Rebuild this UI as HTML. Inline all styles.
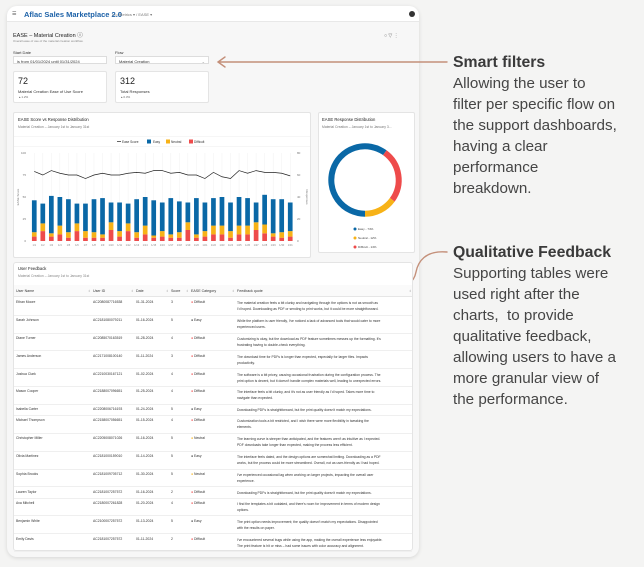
<!DOCTYPE html>
<html><head><meta charset="utf-8">
<style>
*{margin:0;padding:0;box-sizing:border-box}
body{width:644px;height:567px;background:#f4f4f3;position:relative;overflow:hidden;font-family:"Liberation Sans",sans-serif;color:#222}
.a{position:absolute;white-space:nowrap}
.card{position:absolute;background:#fff;border:1px solid #e4e4e4;border-radius:2px}
.t4{font-size:4px;color:#333}
.note{position:absolute;left:453px;font-size:15.2px;line-height:21px;color:#454545;white-space:nowrap}
.note b{font-size:15.8px;color:#3a3a3a}
</style></head><body>
<div class="a" style="left:7px;top:6px;width:412px;height:551px;background:#f7f7f7;border-radius:10px;box-shadow:0 1px 4px rgba(0,0,0,.12)"></div>
<div class="a" style="left:7px;top:6px;width:412px;height:16px;background:#fff;border-radius:10px 10px 0 0;border-bottom:1px solid #e8e8e8"></div>
<div class="a" style="left:12px;top:11px;font-size:5px;color:#555">☰</div>
<div class="a" style="left:24px;top:10px;font-size:7.5px;font-weight:bold;color:#1d62a8">Aflac Sales Marketplace 2.0</div>
<div class="a" style="left:112px;top:12px;font-size:4px;color:#777">|  ▭ Metrics ▾  /  EASE ▾</div>
<div class="a" style="left:409px;top:11px;width:6px;height:6px;border-radius:50%;background:#333"></div>

<div class="a" style="left:13px;top:31px;font-size:5.5px;color:#222">EASE – Material Creation ⓘ</div>
<div class="a t4" style="left:13px;top:39px;font-size:3px;color:#888">Overall ease of use of the material creation workflow.</div>
<div class="a" style="left:384px;top:33px;font-size:5px;color:#666">○ ▽ ⋮</div>

<div class="a t4" style="left:13px;top:50px">Start Date</div>
<div class="a t4" style="left:13px;top:56px;width:94px;height:8px;background:#fff;border:1px solid #ddd;padding:1.5px 3px">is from 01/01/2024 until 01/31/2024</div>
<div class="a t4" style="left:115px;top:50px">Flow</div>
<div class="a t4" style="left:115px;top:56px;width:94px;height:8px;background:#fff;border:1px solid #ddd;padding:1.5px 3px">Material Creation<span style="position:absolute;right:3px;color:#999">⌄</span></div>

<div class="card" style="left:13px;top:71px;width:94px;height:32px">
<div class="a" style="left:4px;top:4px;font-size:9px">72</div>
<div class="a t4" style="left:4px;top:17px">Material Creation Ease of Use Score</div>
<div class="a t4" style="left:5px;top:23px;font-size:3px;color:#666">▴ 1.2%</div></div>
<div class="card" style="left:115px;top:71px;width:94px;height:32px">
<div class="a" style="left:4px;top:4px;font-size:9px">312</div>
<div class="a t4" style="left:4px;top:17px">Total Responses</div>
<div class="a t4" style="left:5px;top:23px;font-size:3px;color:#666">▴ 0.3%</div></div>

<div class="card" style="left:13px;top:112px;width:298px;height:146px"></div>
<div class="a" style="left:18px;top:117px;font-size:4.2px">EASE Score vs Response Distribution</div>
<div class="a t4" style="left:18px;top:125px;font-size:3.4px;color:#777">Material Creation – January 1st to January 31st</div>

<div class="card" style="left:318px;top:112px;width:97px;height:141px"></div>
<div class="a" style="left:322px;top:117px;font-size:4.2px">EASE Response Distribution</div>
<div class="a t4" style="left:322px;top:125px;font-size:3.4px;color:#777">Material Creation – January 1st to January 3...</div>

<svg class="a" style="left:0;top:0" width="644" height="567" id="svg" xmlns="http://www.w3.org/2000/svg"></svg>

<div class="card" style="left:13px;top:262px;width:400px;height:289px;border-radius:3px"></div>
<div class="a" style="left:18px;top:266px;font-size:4.2px">User Feedback</div>
<div class="a t4" style="left:18px;top:274px;font-size:3.4px;color:#888">Material Creation – January 1st to January 31st</div>
<div id="table"></div>

<div class="note" style="top:52px"><b>Smart filters</b><br>Allowing the user to<br>filter per specific flow on<br>the support dashboards,<br>having a clear<br>performance<br>breakdown.</div>
<div class="note" style="top:242px"><b>Qualitative Feedback</b><br>Supporting tables were<br>used right after the<br>charts,&nbsp; to provide<br>qualitative feedback,<br>allowing users to have a<br>more granular view of<br>the performance.</div>

<script>
const days=[];for(let i=1;i<=31;i++)days.push('1/'+i);
const easyCounts=[29,18,34,26,30,18,25,30,33,18,26,18,30,26,32,26,33,28,18,33,26,25,26,26,26,25,18,27,31,30,26];
const neutralCounts=[4,7,3,8,5,7,6,5,3,7,5,7,5,8,2,5,3,5,7,3,5,8,8,6,8,8,7,8,3,5,5];
const difficultCounts=[4,9,4,6,3,9,3,3,3,10,4,9,3,6,3,4,3,3,10,3,4,6,6,3,6,6,10,7,4,3,4];
const easeScores=[79,75,80,77,75,75,71,75,77,75,75,77,78,77,80,80,77,78,75,75,71,78,73,71,80,77,80,78,78,77,74];
const leftTicks=[0,25,50,75,100];
const rightTicks=[0,20,40,60,80];
const sliceLabels=['Easy','Difficult','Neutral'];
const sliceValues=[60,25,15];
const legendLabels=['Easy - 74%','Neutral - 12%','Difficult - 14%'];
const colors={Easy:'#0a68a6',Neutral:'#f7b217',Difficult:'#ee4b4b'};

const NS='http://www.w3.org/2000/svg';const svg=document.getElementById('svg');
function mk(t,a,p){const e=document.createElementNS(NS,t);for(const k in a)e.setAttribute(k,a[k]);(p||svg).appendChild(e);return e;}
const X0=30,X1=294.5,Y0=241,Y1=153;
const band=(X1-X0)/days.length;
const xC=i=>X0+band*(i+0.5);
const yL=v=>Y0-(v/100)*(Y0-Y1);
const yR=v=>Y0-(v/80)*(Y0-Y1);
let l=mk('line',{x1:14,x2:310,y1:136.5,y2:136.5,stroke:'#eee','stroke-width':0.6});
l=mk('line',{x1:14,x2:310,y1:146.5,y2:146.5,stroke:'#eee','stroke-width':0.6});
days.forEach((d,i)=>{const g=mk('line',{x1:xC(i),x2:xC(i),y1:Y1,y2:Y0,stroke:'#f0f0f0','stroke-width':0.5});});
leftTicks.forEach(v=>{const t=mk('text',{x:26,y:yL(v)+1,'font-size':3,'text-anchor':'end',fill:'#777'});t.textContent=v;});
rightTicks.forEach(v=>{const t=mk('text',{x:297,y:yR(v)+1,'font-size':3,fill:'#777'});t.textContent=v;});
let at=mk('text',{x:0,y:0,'font-size':3,fill:'#777','text-anchor':'middle',transform:'translate(19,197) rotate(-90)'});at.textContent='EASE Score';
at=mk('text',{x:0,y:0,'font-size':3,fill:'#777','text-anchor':'middle',transform:'translate(306,197) rotate(90)'});at.textContent='Responses';
const bw=band*0.55;
days.forEach((d,i)=>{
 const x=xC(i)-bw/2;const dd=difficultCounts[i],nn=neutralCounts[i],ee=easyCounts[i];
 let r=mk('rect',{x:x,y:yR(dd),width:bw,height:Y0-yR(dd),fill:colors.Difficult});
 r=mk('rect',{x:x,y:yR(dd+nn),width:bw,height:yR(dd)-yR(dd+nn),fill:colors.Neutral});
 r=mk('rect',{x:x,y:yR(dd+nn+ee),width:bw,height:yR(dd+nn)-yR(dd+nn+ee),fill:colors.Easy});
 const t=mk('text',{x:xC(i),y:246,'font-size':2.6,'text-anchor':'middle',fill:'#888'});t.textContent=d;
});
const pl=mk('polyline',{points:easeScores.map((v,i)=>xC(i)+','+yL(v)).join(' '),fill:'none',stroke:'#222','stroke-width':0.7});

let lg=mk('line',{x1:117,x2:121,y1:141.5,y2:141.5,stroke:'#222','stroke-width':0.7});
[['Ease Score',122,null],['Easy',153,147],['Neutral',171,166],['Difficult',194,189]].forEach(([n,tx,bx])=>{
 if(bx!==null){const r=mk('rect',{x:bx,y:139.5,width:4,height:4,fill:colors[n]});}
 const t=mk('text',{x:tx,y:143,'font-size':3.2,fill:'#333'});t.textContent=n;
});
const cx=365,cy=180,R=33.7;const tot=sliceValues.reduce((a,b)=>a+b,0);let ang=180;
sliceValues.forEach((v,i)=>{const a0=ang*Math.PI/180,a1=(ang+v/tot*360)*Math.PI/180;ang+=v/tot*360;
 const p=(a)=>[cx+R*Math.sin(a),cy-R*Math.cos(a)];const [x0,y0]=p(a0),[x1,y1]=p(a1);
 const s=mk('path',{d:`M${x0} ${y0} A${R} ${R} 0 ${v/tot>0.5?1:0} 1 ${x1} ${y1}`,fill:'none',stroke:colors[sliceLabels[i]],'stroke-width':6});
 });
legendLabels.forEach((t,i)=>{const n=t.split(' ')[0];
 const c=mk('circle',{cx:355,cy:229+i*9,r:1.5,fill:colors[n]});
 const tx=mk('text',{x:358,y:230.2+i*9,'font-size':3,fill:'#444'});tx.textContent=t;});
let ar=mk('path',{d:'M447 62 L218 62 M225 57 L218 62 L225 67',fill:'none',stroke:'#c4907a','stroke-width':1.4,'stroke-linecap':'round'});
ar=mk('path',{d:'M447 252 C425 250 418 262 416 272 C414 283 405 288 392 288 M397 284 L392 288 L398 291',fill:'none',stroke:'#c4907a','stroke-width':1.4,'stroke-linecap':'round'});

const rows=[
['Ethan Moore','AC2080087716538','01-31-2024','3','Difficult','The  material creation feels a bit clunky and navigating through the options is not as smooth as','I\'d hoped. Downloading as PDF or sending to print works, but it could be more straightforward.'],
['Sarah Johnson','AC2181080079211','01-16-2024','5','Easy','While the platform is user friendly, I\'ve noticed a lack of advanced tools that would cater to more','experienced users.'],
['Diane Turner','AC2085070163519','01-28-2024','4','Difficult','Customizing is okay, but the download as PDF feature sometimes messes up the formatting. It\'s','frustrating having to double-check everything.'],
['James Anderson','AC2171008100140','01-11-2024','3','Difficult','The download time for PDFs is longer than expected, especially for larger files. Impacts','productivity.'],
['Joshua Clark','AC2210030167121','01-02-2024','4','Difficult','The software is a bit pricey, causing occasional frustration during the configuration process. The','print option is decent, but it doesn\'t handle complex materials well, leading to unexpected errors.'],
['Mason Cooper','AC2188007096651','01-25-2024','4','Difficult','The interface feels a bit clunky, and it\'s not as user friendly as I\'d hoped. Takes more time to','navigate than expected.'],
['Isabella Carter','AC2208006716193','01-24-2024','5','Easy','Downloading PDFs is straightforward, but the print quality doesn\'t match my expectations.',''],
['Michael Thompson','AC2158007056651','01-15-2024','4','Difficult','Customization tools a bit restricted, and I wish there were more flexibility in tweaking the','elements.'],
['Christopher Miller','AC2205008071026','01-16-2024','5','Neutral','The learning curve is steeper than anticipated, and the features aren\'t as intuitive as I expected.','PDF downloads take longer than expected, making the process less efficient.'],
['Olivia Martinez','AC2181000159010','01-14-2024','5','Easy','The interface feels dated, and the design options are somewhat limiting. Downloading as a PDF','works, but the process could be more streamlined. Overall, not as user-friendly as I had hoped.'],
['Sophia Brooks','AC2181009705712','01-30-2024','5','Neutral','I\'ve experienced occasional lag when working on larger projects, impacting the overall user','experience.'],
['Lauren Taylor','AC2181007257572','01-16-2024','2','Difficult','Downloading PDFs is straightforward, but the print quality doesn\'t match my expectations.',''],
['Ava Mitchell','AC2180007261828','01-20-2024','4','Difficult','I find the templates a bit outdated, and there\'s room for improvement in terms of modern design','options.'],
['Benjamin White','AC2100007257572','01-13-2024','5','Easy','The print option needs improvement; the quality doesn\'t match my expectations. Disappointed','with the results on paper.'],
['Emily Davis','AC2181007257572','01-11-2024','2','Difficult','I\'ve encountered several bugs while using the app, making the overall experience less enjoyable.','The print feature is hit or miss – had some issues with color accuracy and alignment.']];
const cols=[16,93,136,171,191,237];
const heads=['User Name','User ID','Date','Score','EASE Category','Feedback quote'];
const tb=document.getElementById('table');
function div(html,css,name,inter){const d=document.createElement('div');d.className='a t4';d.style.cssText=css;d.innerHTML=html;
 
 
 tb.appendChild(d);return d;}
div('','left:14px;top:285px;width:398px;height:12px;background:#fafafa;border-bottom:1px solid #e6e6e6','table-header-row','false');
heads.forEach((h,i)=>{div(h,'left:'+cols[i]+'px;top:288.5px;font-size:3.6px;color:#333','column-header','true');
 const e=i<5?cols[i+1]-5:409;div('⇕','left:'+e+'px;top:289px;font-size:3px;color:#aaa','sort-icon','true');});
let y=297;const dotC={Easy:'#333',Neutral:'#f7b217',Difficult:'#ee4b4b'};
rows.forEach(r=>{const h=r[6]?17.8:11.3;
 div('','left:14px;top:'+(y+h)+'px;width:398px;height:0;border-top:1px solid #efefef','row-divider','false');
 const ty=y+3.3;
 [r[0],r[1],r[2],r[3]].forEach((v,i)=>div(v,'left:'+cols[i]+'px;top:'+ty+'px;font-size:3.4px','table-cell','false'));
 div('<span style="color:'+dotC[r[4]]+'">●</span> '+r[4],'left:'+cols[4]+'px;top:'+ty+'px;font-size:3.4px','category-cell','false');
 div(r[5]+(r[6]?'<br>'+r[6]:''),'left:'+cols[5]+'px;top:'+ty+'px;font-size:3.4px;line-height:6px','feedback-cell','false');
 y+=h;});
</script>
</body></html>
